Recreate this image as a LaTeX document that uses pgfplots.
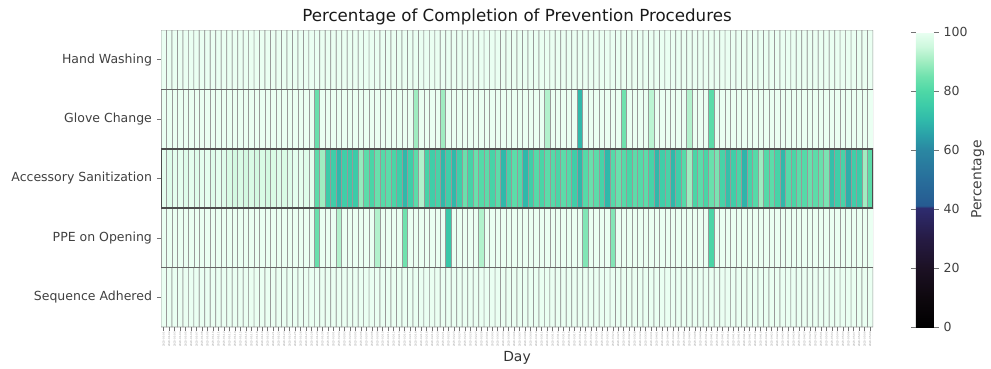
\documentclass[border=0pt]{standalone}
\usepackage{fontspec}
\setmainfont{DejaVu Sans}
\usepackage{pgfplots}
\usepackage{pgfplotstable}
\usepackage{pgfcalendar}
\pgfplotsset{compat=1.18}
\newcount\jd
\pgfplotstableread[row sep=\\]{
x y c\\
0 0 100\\1 0 100\\2 0 100\\3 0 100\\4 0 100\\5 0 100\\6 0 100\\7 0 100\\8 0 100\\9 0 100\\
10 0 100\\11 0 100\\12 0 100\\13 0 100\\14 0 100\\15 0 100\\16 0 100\\17 0 100\\18 0 100\\19 0 100\\
20 0 100\\21 0 100\\22 0 100\\23 0 100\\24 0 100\\25 0 100\\26 0 100\\27 0 100\\28 0 100\\29 0 100\\
30 0 100\\31 0 100\\32 0 100\\33 0 100\\34 0 100\\35 0 100\\36 0 100\\37 0 100\\38 0 100\\39 0 100\\
40 0 100\\41 0 100\\42 0 100\\43 0 100\\44 0 100\\45 0 100\\46 0 100\\47 0 100\\48 0 100\\49 0 100\\
50 0 100\\51 0 100\\52 0 100\\53 0 100\\54 0 100\\55 0 100\\56 0 100\\57 0 100\\58 0 100\\59 0 100\\
60 0 100\\61 0 100\\62 0 100\\63 0 100\\64 0 100\\65 0 100\\66 0 100\\67 0 100\\68 0 100\\69 0 100\\
70 0 100\\71 0 100\\72 0 100\\73 0 100\\74 0 100\\75 0 100\\76 0 100\\77 0 100\\78 0 100\\79 0 100\\
80 0 100\\81 0 100\\82 0 100\\83 0 100\\84 0 100\\85 0 100\\86 0 100\\87 0 100\\88 0 100\\89 0 100\\
90 0 100\\91 0 100\\92 0 100\\93 0 100\\94 0 100\\95 0 100\\96 0 100\\97 0 100\\98 0 100\\99 0 100\\
100 0 100\\101 0 100\\102 0 100\\103 0 100\\104 0 100\\105 0 100\\106 0 100\\107 0 100\\108 0 100\\109 0 100\\
110 0 100\\111 0 100\\112 0 100\\113 0 100\\114 0 100\\115 0 100\\116 0 100\\117 0 100\\118 0 100\\119 0 100\\
120 0 100\\121 0 100\\122 0 100\\123 0 100\\124 0 100\\125 0 100\\126 0 100\\127 0 100\\128 0 100\\129 0 100\\
0 1 100\\1 1 100\\2 1 100\\3 1 100\\4 1 100\\5 1 100\\6 1 100\\7 1 100\\8 1 100\\9 1 100\\
10 1 100\\11 1 100\\12 1 100\\13 1 100\\14 1 100\\15 1 100\\16 1 100\\17 1 100\\18 1 100\\19 1 100\\
20 1 100\\21 1 100\\22 1 100\\23 1 100\\24 1 100\\25 1 100\\26 1 100\\27 1 100\\28 1 84\\29 1 100\\
30 1 100\\31 1 100\\32 1 100\\33 1 100\\34 1 100\\35 1 100\\36 1 100\\37 1 100\\38 1 100\\39 1 100\\
40 1 100\\41 1 100\\42 1 100\\43 1 100\\44 1 100\\45 1 100\\46 1 90\\47 1 100\\48 1 100\\49 1 100\\
50 1 100\\51 1 90\\52 1 100\\53 1 100\\54 1 100\\55 1 100\\56 1 100\\57 1 100\\58 1 100\\59 1 100\\
60 1 100\\61 1 100\\62 1 100\\63 1 100\\64 1 100\\65 1 100\\66 1 100\\67 1 100\\68 1 100\\69 1 100\\
70 1 92\\71 1 100\\72 1 100\\73 1 100\\74 1 100\\75 1 100\\76 1 70\\77 1 100\\78 1 100\\79 1 100\\
80 1 100\\81 1 100\\82 1 100\\83 1 100\\84 1 85\\85 1 100\\86 1 100\\87 1 100\\88 1 100\\89 1 93\\
90 1 100\\91 1 100\\92 1 100\\93 1 100\\94 1 100\\95 1 100\\96 1 92\\97 1 100\\98 1 100\\99 1 100\\
100 1 82\\101 1 100\\102 1 100\\103 1 100\\104 1 100\\105 1 100\\106 1 100\\107 1 100\\108 1 100\\109 1 100\\
110 1 100\\111 1 100\\112 1 100\\113 1 100\\114 1 100\\115 1 100\\116 1 100\\117 1 100\\118 1 100\\119 1 100\\
120 1 100\\121 1 100\\122 1 100\\123 1 100\\124 1 100\\125 1 100\\126 1 100\\127 1 100\\128 1 100\\129 1 100\\
0 2 99\\1 2 98\\2 2 99\\3 2 99\\4 2 98\\5 2 99\\6 2 98\\7 2 99\\8 2 99\\9 2 98\\
10 2 99\\11 2 98\\12 2 97\\13 2 96\\14 2 97\\15 2 96\\16 2 97\\17 2 96\\18 2 97\\19 2 96\\
20 2 97\\21 2 98\\22 2 97\\23 2 98\\24 2 99\\25 2 99\\26 2 98\\27 2 99\\28 2 82\\29 2 90\\
30 2 75\\31 2 76\\32 2 70\\33 2 76\\34 2 75\\35 2 75\\36 2 89\\37 2 82\\38 2 79\\39 2 84\\
40 2 81\\41 2 82\\42 2 79\\43 2 76\\44 2 70\\45 2 76\\46 2 82\\47 2 92\\48 2 78\\49 2 76\\
50 2 78\\51 2 70\\52 2 76\\53 2 70\\54 2 76\\55 2 84\\56 2 78\\57 2 84\\58 2 81\\59 2 82\\
60 2 78\\61 2 82\\62 2 70\\63 2 78\\64 2 82\\65 2 81\\66 2 70\\67 2 76\\68 2 81\\69 2 79\\
70 2 82\\71 2 81\\72 2 79\\73 2 82\\74 2 81\\75 2 76\\76 2 70\\77 2 81\\78 2 84\\79 2 82\\
80 2 78\\81 2 70\\82 2 81\\83 2 84\\84 2 81\\85 2 79\\86 2 82\\87 2 81\\88 2 82\\89 2 78\\
90 2 70\\91 2 76\\92 2 78\\93 2 70\\94 2 76\\95 2 81\\96 2 90\\97 2 79\\98 2 82\\99 2 79\\
100 2 84\\101 2 86\\102 2 78\\103 2 72\\104 2 76\\105 2 79\\106 2 69\\107 2 78\\108 2 81\\109 2 90\\
110 2 81\\111 2 82\\112 2 78\\113 2 70\\114 2 81\\115 2 79\\116 2 82\\117 2 81\\118 2 84\\119 2 82\\
120 2 84\\121 2 86\\122 2 72\\123 2 76\\124 2 78\\125 2 68\\126 2 76\\127 2 75\\128 2 90\\129 2 82\\
0 3 100\\1 3 100\\2 3 100\\3 3 100\\4 3 100\\5 3 100\\6 3 100\\7 3 100\\8 3 100\\9 3 100\\
10 3 100\\11 3 100\\12 3 100\\13 3 100\\14 3 100\\15 3 100\\16 3 100\\17 3 100\\18 3 100\\19 3 100\\
20 3 100\\21 3 100\\22 3 100\\23 3 100\\24 3 100\\25 3 100\\26 3 100\\27 3 100\\28 3 84\\29 3 100\\
30 3 100\\31 3 100\\32 3 92\\33 3 100\\34 3 100\\35 3 100\\36 3 100\\37 3 100\\38 3 100\\39 3 92\\
40 3 100\\41 3 100\\42 3 100\\43 3 100\\44 3 85\\45 3 100\\46 3 100\\47 3 100\\48 3 100\\49 3 100\\
50 3 100\\51 3 100\\52 3 74\\53 3 100\\54 3 100\\55 3 100\\56 3 100\\57 3 100\\58 3 92\\59 3 100\\
60 3 100\\61 3 100\\62 3 100\\63 3 100\\64 3 100\\65 3 100\\66 3 100\\67 3 100\\68 3 100\\69 3 100\\
70 3 100\\71 3 100\\72 3 100\\73 3 100\\74 3 100\\75 3 100\\76 3 100\\77 3 87\\78 3 100\\79 3 100\\
80 3 100\\81 3 100\\82 3 87\\83 3 100\\84 3 100\\85 3 100\\86 3 100\\87 3 100\\88 3 100\\89 3 100\\
90 3 100\\91 3 100\\92 3 100\\93 3 100\\94 3 100\\95 3 100\\96 3 100\\97 3 100\\98 3 100\\99 3 100\\
100 3 79\\101 3 100\\102 3 100\\103 3 100\\104 3 100\\105 3 100\\106 3 100\\107 3 100\\108 3 100\\109 3 100\\
110 3 100\\111 3 100\\112 3 100\\113 3 100\\114 3 100\\115 3 100\\116 3 100\\117 3 100\\118 3 100\\119 3 100\\
120 3 100\\121 3 100\\122 3 100\\123 3 100\\124 3 100\\125 3 100\\126 3 100\\127 3 100\\128 3 100\\129 3 100\\
0 4 100\\1 4 100\\2 4 100\\3 4 100\\4 4 100\\5 4 100\\6 4 100\\7 4 100\\8 4 100\\9 4 100\\
10 4 100\\11 4 100\\12 4 100\\13 4 100\\14 4 100\\15 4 100\\16 4 100\\17 4 100\\18 4 100\\19 4 100\\
20 4 100\\21 4 100\\22 4 100\\23 4 100\\24 4 100\\25 4 100\\26 4 100\\27 4 100\\28 4 100\\29 4 100\\
30 4 100\\31 4 100\\32 4 100\\33 4 100\\34 4 100\\35 4 100\\36 4 100\\37 4 100\\38 4 100\\39 4 100\\
40 4 100\\41 4 100\\42 4 100\\43 4 100\\44 4 100\\45 4 100\\46 4 100\\47 4 100\\48 4 100\\49 4 100\\
50 4 100\\51 4 100\\52 4 100\\53 4 100\\54 4 100\\55 4 100\\56 4 100\\57 4 100\\58 4 100\\59 4 100\\
60 4 100\\61 4 100\\62 4 100\\63 4 100\\64 4 100\\65 4 100\\66 4 100\\67 4 100\\68 4 100\\69 4 100\\
70 4 100\\71 4 100\\72 4 100\\73 4 100\\74 4 100\\75 4 100\\76 4 100\\77 4 100\\78 4 100\\79 4 100\\
80 4 100\\81 4 100\\82 4 100\\83 4 100\\84 4 100\\85 4 100\\86 4 100\\87 4 100\\88 4 100\\89 4 100\\
90 4 100\\91 4 100\\92 4 100\\93 4 100\\94 4 100\\95 4 100\\96 4 100\\97 4 100\\98 4 100\\99 4 100\\
100 4 100\\101 4 100\\102 4 100\\103 4 100\\104 4 100\\105 4 100\\106 4 100\\107 4 100\\108 4 100\\109 4 100\\
110 4 100\\111 4 100\\112 4 100\\113 4 100\\114 4 100\\115 4 100\\116 4 100\\117 4 100\\118 4 100\\119 4 100\\
120 4 100\\121 4 100\\122 4 100\\123 4 100\\124 4 100\\125 4 100\\126 4 100\\127 4 100\\128 4 100\\129 4 100\\
}\heatdata
\begin{document}
\begin{tikzpicture}
\begin{axis}[
  at={(115.92pt,-235.44pt)}, anchor=south west,
  scale only axis, width=512.64pt, height=213.84pt,
  xmin=-0.5, xmax=129.5, ymin=-0.5, ymax=4.5, y dir=reverse,
  enlargelimits=false,
  axis line style={draw=none},
  colormap={procmap}{rgb255(0)=(0,0,0) rgb255(10)=(14,8,14) rgb255(20)=(28,17,36) rgb255(30)=(38,27,68) rgb255(40.5)=(46,44,112) rgb255(41)=(38,90,145) rgb255(50)=(40,110,155) rgb255(60)=(42,135,162) rgb255(65)=(42,160,168) rgb255(70)=(48,185,170) rgb255(75)=(60,203,168) rgb255(80)=(78,216,166) rgb255(85)=(112,226,174) rgb255(90)=(160,237,193) rgb255(95)=(205,248,221) rgb255(100)=(234,255,242)},
  point meta min=0, point meta max=100,
  ytick={0,1,2,3,4},
  yticklabels={Hand Washing, Glove Change, Accessory Sanitization, PPE on Opening, Sequence Adhered},
  yticklabel style={font=\fontsize{9}{10}\selectfont, text=black!75},
  xtick={0,...,129},
  xticklabel={\pgfcalendardatetojulian{2023-01-01}{\jd}\pgfmathtruncatemacro\tk{\tick}\advance\jd by \tk\relax\pgfcalendarjuliantodate{\the\jd}{\yy}{\mm}{\dd}\yy-\mm-\dd},
  xticklabel style={font=\fontsize{1.8}{2}\selectfont, rotate=90, anchor=east, text=black!45, inner sep=0.6pt},
  xtick pos=bottom, ytick pos=left,
  tick align=outside, major tick length=3pt, tick style={black!55, line width=0.5pt},
  xlabel={Day},
  xlabel style={font=\fontsize{10}{12}\selectfont, text=black!80, at={(axis description cs:0.5,0)}, anchor=base, yshift=-24.5pt},
  title={Percentage of Completion of Prevention Procedures},
  title style={font=\fontsize{12}{14}\selectfont, text=black!90, at={(axis description cs:0.5,1)}, anchor=base, yshift=0pt},
  colorbar,
  colorbar style={
    at={(parent axis.south east)}, anchor=south west, xshift=22.3pt,
    scale only axis, width=12.96pt, height=212.4pt,
    ytick={0,20,40,60,80,100},
    yticklabel style={font=\fontsize{9}{10}\selectfont, text=black!75},
    /pgf/number format/assume math mode=true,
    axis line style={draw=none},
    tick align=outside, major tick length=3.5pt, tick style={black!55, line width=0.5pt},
    ylabel={Percentage},
    ylabel style={font=\fontsize{10}{12}\selectfont, text=black!75, at={(axis description cs:3.446,0.5)}, anchor=center},
  },
]
\addplot[matrix plot, mesh/cols=130, point meta=explicit, shader=faceted, faceted color=black!40, line width=0.5pt] table[x=x, y=y, meta=c]{\heatdata};
\draw[black!60, line width=1pt] (axis cs:-0.5,0.5) -- (axis cs:129.5,0.5);
\draw[black!60, line width=1pt] (axis cs:-0.5,3.5) -- (axis cs:129.5,3.5);
\draw[black!70, line width=1.3pt] (axis cs:-0.5,1.5) rectangle (axis cs:129.5,2.5);
\end{axis}
\pgfresetboundingbox
\path (0,0) rectangle (713.52pt,-264.96pt);
\end{tikzpicture}
\end{document}
